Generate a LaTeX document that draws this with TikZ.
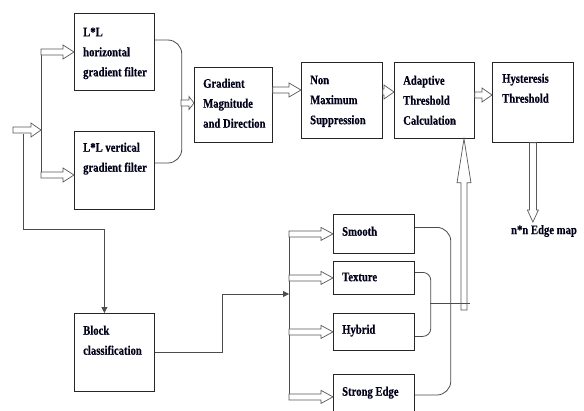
\documentclass[tikz,border=0pt]{standalone}
\usepackage{fontspec}
\newfontfamily\lbl{Liberation Serif Bold}[FakeStretch=0.82,FakeBold=0.4]
\usetikzlibrary{calc,arrows.meta}
\newcommand\hollowR[5]{\draw[hollow] let \p1=#1, \p2=#2 in
  (\x1,\y1+#3) -- (\x2-#5,\y1+#3) -- (\x2-#5,\y1+#4) -- (\x2,\y1) -- (\x2-#5,\y1-#4) -- (\x2-#5,\y1-#3) -- (\x1,\y1-#3) -- cycle;}
\newcommand\hollowU[5]{\draw[hollow] let \p1=#1, \p2=#2 in
  (\x1-#3,\y1) -- (\x1-#3,\y2-#5) -- (\x1-#4,\y2-#5) -- (\x1,\y2) -- (\x1+#4,\y2-#5) -- (\x1+#3,\y2-#5) -- (\x1+#3,\y1) -- cycle;}
\newcommand\hollowD[5]{\draw[hollow] let \p1=#1, \p2=#2 in
  (\x1-#3,\y1) -- (\x1-#3,\y2+#5) -- (\x1-#4,\y2+#5) -- (\x1,\y2) -- (\x1+#4,\y2+#5) -- (\x1+#3,\y2+#5) -- (\x1+#3,\y1) -- cycle;}
\begin{document}
\begin{tikzpicture}[x=1pt,y=-1pt,
  box/.style={draw=black!85, line width=0.8pt, inner sep=0pt, anchor=north west},
  txt/.style={anchor=north west, inner sep=0pt, align=left, text=black!90!blue, font=\lbl\fontsize{13}{20}\selectfont},
  conn/.style={draw=black!70, line width=0.8pt},
  hollow/.style={draw=black!65, line width=0.7pt, fill=white},
  tip/.style={-{Triangle[width=6pt,length=6pt]}}]
\useasboundingbox[fill=white] (0,0) rectangle (584,410);
% boxes
\node[box, minimum width=80pt, minimum height=77pt] (hf) at (74,13) {};
\node[box, minimum width=80pt, minimum height=78pt] (vf) at (74,131) {};
\node[box, minimum width=78pt, minimum height=75pt] (gm) at (194,67) {};
\node[box, minimum width=81pt, minimum height=76pt] (nms) at (301,62) {};
\node[box, minimum width=80pt, minimum height=76pt] (atc) at (394,62) {};
\node[box, minimum width=81pt, minimum height=80pt] (hys) at (492,62) {};
\node[box, minimum width=80pt, minimum height=78pt] (blk) at (74,313) {};
\node[box, minimum width=81pt, minimum height=39pt] (sm) at (333,214) {};
\node[box, minimum width=81pt, minimum height=33pt] (tx) at (333,261) {};
\node[box, minimum width=81pt, minimum height=37pt] (hy) at (333,313) {};
\node[box, minimum width=81pt, minimum height=45pt] (se) at (333,374) {};
% texts
\node[txt] (thf) at (83,27.5) {L*L\\horizontal\\gradient filter};
\node[txt] (tvf) at (83,142.5) {L*L vertical\\gradient filter};
\node[txt] (tgm) at (203,78.5) {Gradient\\Magnitude\\and Direction};
\node[txt] (tnms) at (310,75.5) {Non\\Maximum\\Suppression};
\node[txt] (tatc) at (403,75.5) {Adaptive\\Threshold\\Calculation};
\node[txt] (thys) at (502,73.5) {Hysteresis\\Threshold};
\node[txt] (tblk) at (83,325.5) {Block\\classification};
\node[txt] (tsm) at (342,226.5) {Smooth};
\node[txt] (ttx) at (342,272.5) {Texture};
\node[txt] (thy) at (342,324.5) {Hybrid};
\node[txt] (tse) at (342,386.5) {Strong Edge};
\node[txt, anchor=center] (edge) at (544,231) {n*n Edge map};
% coordinates
\coordinate (in) at (13,130);
\coordinate (inEnd) at (41,130);
\coordinate (sp1) at (41,52);
\coordinate (sp2) at (41,175);
\coordinate (tap) at (23,134);
\coordinate (br1) at (181,103);
\coordinate (em) at (533,222);
\coordinate (up) at (464,310);
\coordinate (cj) at (289,294);
\coordinate (g1) at (289,232);
\coordinate (g4) at (289,400);
\coordinate (tj) at (430,303);
% input section
\draw[conn] (sp1) -- (sp2);
\draw[conn, tip] (tap) |- ($(blk.north)+(-10,-84)$) -- ($(blk.north)+(-10,0)$);
\hollowR{(in)}{(inEnd)}{3pt}{7pt}{10pt}
\hollowR{(sp1)}{(hf.west)}{3pt}{7pt}{11pt}
\hollowR{(sp2)}{(sp2 -| vf.west)}{3pt}{7pt}{11pt}
% filter bracket
\draw[conn, rounded corners=14pt] ($(hf.north east)+(0,27)$) -- ++(27,0) |- ($(vf.north east)+(0,32)$);
\hollowR{(br1)}{(br1 -| gm.west)}{3pt}{6.5pt}{5pt}
% main chain
\hollowR{(gm.east |- 0,90)}{(nms.west |- 0,90)}{3pt}{7pt}{12pt}
\hollowR{(nms.east |- 0,92)}{(atc.west |- 0,92)}{3pt}{7pt}{10pt}
\hollowR{(atc.east |- 0,95)}{(hys.west |- 0,95)}{3pt}{7pt}{10pt}
\hollowD{(hys.south)}{(hys.south |- em)}{3.5pt}{5.5pt}{12pt}
% classification
\draw[conn, tip] (blk.east) -- ++(68,0) |- (cj);
\draw[conn] (g1) -- (g4);
\hollowR{(sm.west -| cj)}{(sm.west)}{3pt}{6.5pt}{12pt}
\hollowR{(tx.west -| cj)}{(tx.west)}{3pt}{6.5pt}{12pt}
\hollowR{(hy.west -| cj)}{(hy.west)}{3pt}{6.5pt}{12pt}
\hollowR{(se.west -| cj) }{(se.west)}{3pt}{6.5pt}{12pt}
\draw[conn, rounded corners=14pt] ($(sm.east)+(0,-6.5)$) -- ++(36,0) |- ($(se.north east)+(0,21)$);
\draw[conn, rounded corners=8pt] ($(tx.east)+(0,-5.5)$) -- ++(16,0) |- ($(hy.east)+(0,4.5)$);
\hollowU{(up)}{(up |- atc.south)}{3pt}{7pt}{44pt}
\draw[conn] (tj) -- ++(40,0);
\end{tikzpicture}
\end{document}
